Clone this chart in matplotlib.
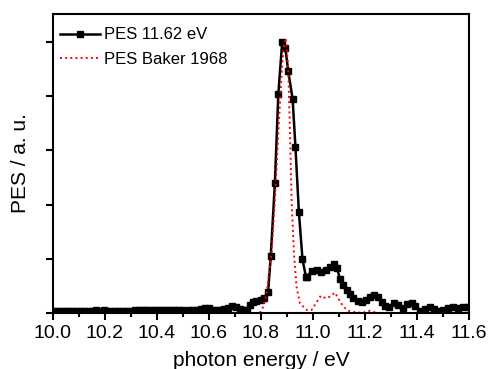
import matplotlib
matplotlib.use('Agg')
import matplotlib.pyplot as plt
from matplotlib.ticker import MultipleLocator

plt.rcParams['font.family'] = ['Liberation Sans', 'DejaVu Sans']

# PES 11.62 eV (black squares)
pes_x = [10.000, 10.015, 10.030, 10.045, 10.060, 10.075, 10.090, 10.105, 10.120, 10.135,
         10.150, 10.165, 10.180, 10.195, 10.210, 10.225, 10.240, 10.255, 10.270, 10.285,
         10.300, 10.315, 10.330, 10.345, 10.360, 10.375, 10.390, 10.405, 10.420, 10.435,
         10.450, 10.465, 10.480, 10.495, 10.510, 10.525, 10.540, 10.555, 10.570, 10.585,
         10.600, 10.615, 10.630, 10.645, 10.660, 10.675, 10.690, 10.705, 10.720, 10.735,
         10.746, 10.758, 10.770, 10.783, 10.799, 10.812, 10.828, 10.838, 10.854, 10.867,
         10.882, 10.894, 10.905, 10.922, 10.933, 10.946, 10.960, 10.973, 10.978, 10.995,
         11.014, 11.033, 11.050, 11.065, 11.081, 11.093, 11.104, 11.117, 11.130, 11.142,
         11.155, 11.172, 11.187, 11.204, 11.219, 11.236, 11.251, 11.264, 11.277, 11.293,
         11.312, 11.328, 11.345, 11.363, 11.380, 11.392, 11.412, 11.431, 11.450, 11.465,
         11.482, 11.501, 11.520, 11.540, 11.559, 11.578, 11.597]
pes_y = [0.006, 0.007, 0.006, 0.007, 0.006, 0.006, 0.007, 0.006, 0.007, 0.008,
         0.008, 0.009, 0.008, 0.009, 0.008, 0.008, 0.007, 0.008, 0.007, 0.007,
         0.008, 0.009, 0.009, 0.010, 0.009, 0.010, 0.010, 0.009, 0.010, 0.010,
         0.009, 0.010, 0.009, 0.009, 0.008, 0.009, 0.010, 0.012, 0.015, 0.018,
         0.017, 0.012, 0.009, 0.010, 0.014, 0.019, 0.024, 0.022, 0.015, 0.010,
         0.012, 0.030, 0.042, 0.045, 0.048, 0.054, 0.079, 0.211, 0.481, 0.807,
         1.001, 0.978, 0.893, 0.790, 0.611, 0.374, 0.198, 0.134, 0.132, 0.156,
         0.159, 0.152, 0.159, 0.169, 0.180, 0.165, 0.125, 0.103, 0.085, 0.070,
         0.054, 0.044, 0.042, 0.048, 0.058, 0.065, 0.060, 0.042, 0.026, 0.021,
         0.038, 0.030, 0.017, 0.033, 0.036, 0.026, 0.008, 0.014, 0.021, 0.014,
         0.008, 0.011, 0.017, 0.021, 0.018, 0.021, 0.023]

# PES Baker 1968 (red dotted)
baker_x = [10.796, 10.809, 10.822, 10.841, 10.854, 10.867, 10.880, 10.888, 10.896, 10.905,
           10.912, 10.918, 10.927, 10.937, 10.950, 10.976, 10.995, 11.008, 11.030, 11.050,
           11.065, 11.085, 11.097, 11.117, 11.136, 11.168, 11.193, 11.219, 11.245]
baker_y = [0.000, 0.023, 0.073, 0.221, 0.417, 0.664, 0.886, 0.983, 1.014, 0.909,
           0.664, 0.417, 0.221, 0.097, 0.036, 0.011, 0.011, 0.030, 0.063, 0.054,
           0.060, 0.075, 0.054, 0.023, 0.008, 0.001, 0.001, 0.008, 0.000]

fig = plt.figure(figsize=(4.89, 3.69), dpi=100)
ax = fig.add_axes([0.108, 0.152, 0.851, 0.810])

ax.plot(pes_x, pes_y, color='black', lw=1.8, marker='s', ms=4.6, label='PES 11.62 eV')
ax.plot(baker_x, baker_y, color='red', lw=1.4, ls=':', label='PES Baker 1968')

ax.set_xlim(10.0, 11.6)
ax.set_ylim(0, 1.103)
ax.xaxis.set_major_locator(MultipleLocator(0.2))
ax.xaxis.set_minor_locator(MultipleLocator(0.1))
ax.yaxis.set_major_locator(MultipleLocator(0.2))
ax.set_yticklabels([])
ax.xaxis.set_major_formatter(matplotlib.ticker.FormatStrFormatter('%.1f'))

ax.tick_params(axis='both', which='major', direction='out', length=5, width=1.5, labelsize=14)
ax.tick_params(axis='x', which='minor', direction='out', length=3, width=1.5)
for s in ax.spines.values():
    s.set_linewidth(1.5)

ax.set_xlabel('photon energy / eV', fontsize=15, labelpad=7)
ax.set_ylabel('PES / a. u.', fontsize=15, labelpad=8)

# legend a bit lower than default, like the original
ax.legend(loc='upper left', bbox_to_anchor=(0.0, 0.98), frameon=False, fontsize=12,
          handlelength=2.4, handletextpad=0.25, borderpad=0.25, borderaxespad=0.2,
          labelspacing=0.55)

plt.savefig('out.png', dpi=100)
